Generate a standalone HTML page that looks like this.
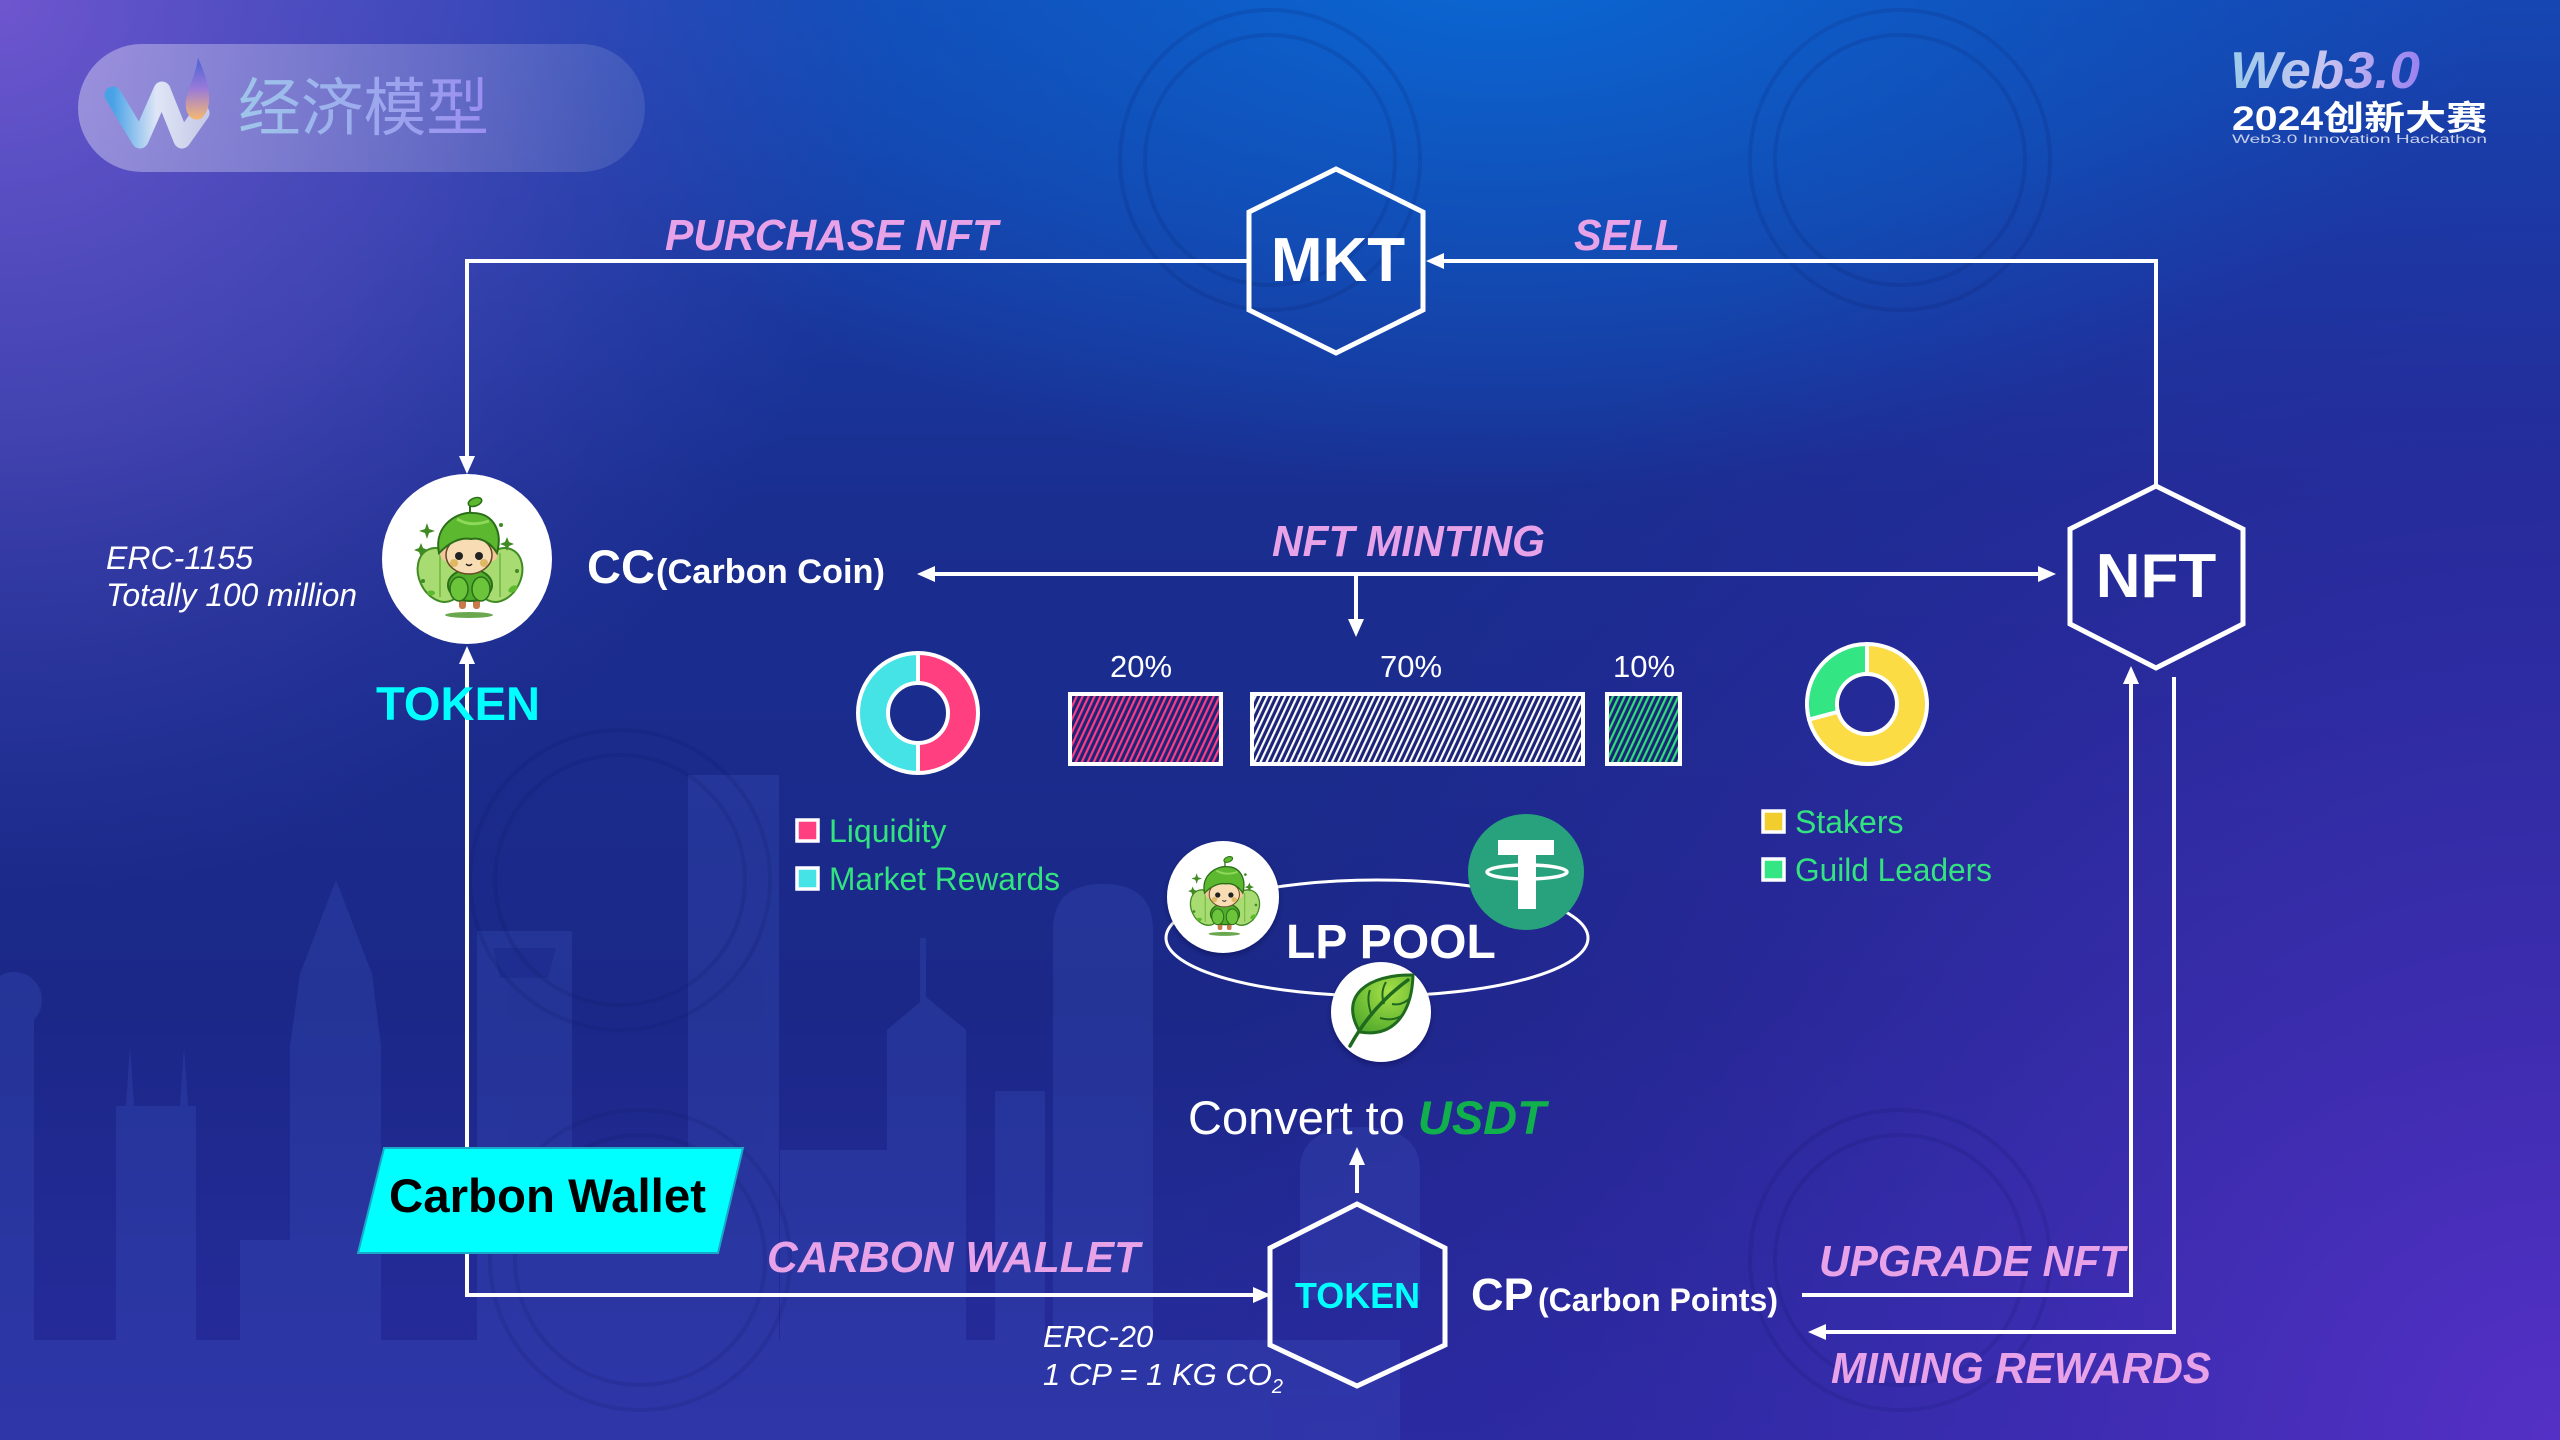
<!DOCTYPE html>
<html><head><meta charset="utf-8"><style>
html,body{margin:0;padding:0;background:#1b2a8c;}
svg{display:block;}
</style></head><body>
<svg width="2560" height="1440" viewBox="0 0 2560 1440" xmlns="http://www.w3.org/2000/svg" font-family="'Liberation Sans', Arial, sans-serif">
<defs>
  <linearGradient id="bgv" x1="0" y1="0" x2="0" y2="1">
    <stop offset="0" stop-color="#1646b2"/>
    <stop offset="0.35" stop-color="#1a2e90"/>
    <stop offset="0.7" stop-color="#1b2888"/>
    <stop offset="1" stop-color="#282b9e"/>
  </linearGradient>
  <radialGradient id="rtl" cx="0" cy="0" r="900" gradientUnits="userSpaceOnUse">
    <stop offset="0" stop-color="#6e56cf" stop-opacity="1"/>
    <stop offset="0.5" stop-color="#5a4cc0" stop-opacity="0.6"/>
    <stop offset="1" stop-color="#3a40b0" stop-opacity="0"/>
  </radialGradient>
  <radialGradient id="rtop" cx="1500" cy="-60" r="1000" gradientUnits="userSpaceOnUse" gradientTransform="translate(1500 -60) scale(1 0.55) translate(-1500 60)">
    <stop offset="0" stop-color="#0a6ad6" stop-opacity="1"/>
    <stop offset="0.6" stop-color="#0c5cc6" stop-opacity="0.5"/>
    <stop offset="1" stop-color="#0c5cc6" stop-opacity="0"/>
  </radialGradient>
  <radialGradient id="rbr" cx="2560" cy="1440" r="1400" gradientUnits="userSpaceOnUse">
    <stop offset="0" stop-color="#5530c6" stop-opacity="1"/>
    <stop offset="0.5" stop-color="#3f2cb4" stop-opacity="0.6"/>
    <stop offset="1" stop-color="#3020a0" stop-opacity="0"/>
  </radialGradient>
  <linearGradient id="pill" x1="0" y1="0" x2="1" y2="0">
    <stop offset="0" stop-color="#ffffff" stop-opacity="0.36"/>
    <stop offset="1" stop-color="#ffffff" stop-opacity="0.1"/>
  </linearGradient>
  <linearGradient id="ttl" x1="0" y1="0" x2="1" y2="0">
    <stop offset="0" stop-color="#9ec6ea"/>
    <stop offset="1" stop-color="#9a8ef0"/>
  </linearGradient>
  <linearGradient id="wg" x1="0" y1="0" x2="1" y2="0">
    <stop offset="0" stop-color="#4aa2e6"/>
    <stop offset="0.5" stop-color="#dfe6f6"/>
    <stop offset="1" stop-color="#c8cce8"/>
  </linearGradient>
  <linearGradient id="dropg" x1="0" y1="0" x2="0" y2="1">
    <stop offset="0" stop-color="#4a62d8"/>
    <stop offset="0.5" stop-color="#9a7ad8"/>
    <stop offset="1" stop-color="#f6b870"/>
  </linearGradient>
  <linearGradient id="web" x1="0" y1="0" x2="1" y2="0">
    <stop offset="0" stop-color="#9ccbea"/>
    <stop offset="0.5" stop-color="#c8c4f0"/>
    <stop offset="1" stop-color="#9a82f0"/>
  </linearGradient>
  <pattern id="pPink" patternUnits="userSpaceOnUse" width="5.4" height="10" patternTransform="rotate(25)">
    <rect width="5.4" height="10" fill="#1c2478"/>
    <rect x="0" width="2.2" height="10" fill="#ff3d84"/>
  </pattern>
  <pattern id="pWhite" patternUnits="userSpaceOnUse" width="5.4" height="10" patternTransform="rotate(25)">
    <rect width="5.4" height="10" fill="#1c2478"/>
    <rect x="0" width="2.2" height="10" fill="#ffffff"/>
  </pattern>
  <pattern id="pGreen" patternUnits="userSpaceOnUse" width="5.4" height="10" patternTransform="rotate(25)">
    <rect width="5.4" height="10" fill="#1c2478"/>
    <rect x="0" width="2.2" height="10" fill="#2fe07a"/>
  </pattern>
  <radialGradient id="leafg" cx="0.6" cy="0.3" r="0.8">
    <stop offset="0" stop-color="#a6e048"/>
    <stop offset="1" stop-color="#4ea82a"/>
  </radialGradient>
  <filter id="sh" x="-20%" y="-20%" width="140%" height="140%">
    <feDropShadow dx="0" dy="3" stdDeviation="3" flood-color="#000030" flood-opacity="0.35"/>
  </filter>
  <symbol id="fairy" viewBox="-85 -85 170 170" overflow="visible">
    <!-- wings -->
    <ellipse cx="-27" cy="16" rx="21" ry="28" transform="rotate(-25 -27 16)" fill="#a8dc72" stroke="#3f8a22" stroke-width="2"/>
    <ellipse cx="33" cy="16" rx="21" ry="28" transform="rotate(25 33 16)" fill="#a8dc72" stroke="#3f8a22" stroke-width="2"/>
    <path d="M-27 -6 L-27 38 M33 -6 L33 38" stroke="#6cb63c" stroke-width="1.5"/>
    <!-- legs -->
    <rect x="-8" y="36" width="7" height="14" rx="3" fill="#c77a4a"/>
    <rect x="6" y="36" width="7" height="14" rx="3" fill="#c77a4a"/>
    <!-- body leaves -->
    <ellipse cx="3" cy="26" rx="22" ry="16" fill="#4fae2a" stroke="#2b6e1a" stroke-width="2"/>
    <ellipse cx="-8" cy="30" rx="9" ry="12" fill="#6cc43a" stroke="#2b6e1a" stroke-width="1.5"/>
    <ellipse cx="14" cy="30" rx="9" ry="12" fill="#6cc43a" stroke="#2b6e1a" stroke-width="1.5"/>
    <!-- face -->
    <ellipse cx="-21" cy="-6" rx="6" ry="8" fill="#f2c89a"/>
    <ellipse cx="25" cy="-6" rx="6" ry="8" fill="#f2c89a"/>
    <ellipse cx="2" cy="-4" rx="23" ry="19" fill="#f8dcb4" stroke="#6a4a2a" stroke-width="1.5"/>
    <circle cx="-8" cy="-3" r="4" fill="#222"/>
    <circle cx="12" cy="-3" r="4" fill="#222"/>
    <circle cx="-13" cy="4" r="4" fill="#d4a840" opacity="0.7"/>
    <circle cx="17" cy="4" r="4" fill="#d4a840" opacity="0.7"/>
    <path d="M-1 5 Q2 8 5 5" stroke="#222" stroke-width="1.5" fill="none"/>
    <!-- hair -->
    <path d="M-28 -6 C-34 -36 -6 -48 6 -46 C26 -46 36 -28 30 -6 C24 -16 14 -22 4 -20 C-8 -22 -18 -16 -28 -6 Z" fill="#5cb82e" stroke="#2b6e1a" stroke-width="2"/>
    <path d="M-10 -40 C0 -34 10 -34 22 -38" stroke="#8ed85a" stroke-width="3" fill="none"/>
    <!-- sprout -->
    <path d="M3 -46 L3 -54" stroke="#2b6e1a" stroke-width="2"/>
    <ellipse cx="8" cy="-57" rx="7" ry="4" transform="rotate(-20 8 -57)" fill="#5cb82e" stroke="#2b6e1a" stroke-width="1.5"/>
    <!-- shadow -->
    <ellipse cx="2" cy="56" rx="24" ry="3" fill="#6aa84f"/>
    <!-- sparkles -->
    <path d="M-40 -36 l2 6 6 2 -6 2 -2 6 -2 -6 -6 -2 6 -2 z" fill="#3f8a22"/>
    <path d="M-46 -16 l2 5 5 2 -5 2 -2 5 -2 -5 -5 -2 5 -2 z" fill="#3f8a22"/>
    <path d="M40 -22 l2 5 5 2 -5 2 -2 5 -2 -5 -5 -2 5 -2 z" fill="#3f8a22"/>
    <circle cx="34" cy="-34" r="2" fill="#3f8a22"/>
    <circle cx="-44" cy="22" r="2" fill="#3f8a22"/>
    <circle cx="50" cy="12" r="2" fill="#3f8a22"/>
    <ellipse cx="46" cy="30" rx="5" ry="3" transform="rotate(-30 46 30)" fill="#5cb82e"/>
    <ellipse cx="-36" cy="34" rx="4" ry="2.5" fill="#5cb82e"/>
  </symbol>
</defs>

<!-- background -->
<rect width="2560" height="1440" fill="url(#bgv)"/>
<rect width="2560" height="1440" fill="url(#rtop)"/>
<rect width="2560" height="1440" fill="url(#rtl)"/>
<rect width="2560" height="1440" fill="url(#rbr)"/>

<!-- skyline -->
<g fill="#4a66d4" opacity="0.2">
  <rect x="0" y="1010" width="34" height="430"/>
  <circle cx="14" cy="1000" r="28"/>
  <rect x="116" y="1106" width="80" height="334"/>
  <polygon points="126,1106 130,1046 134,1106"/>
  <polygon points="180,1106 184,1046 188,1106"/>
  <polygon points="290,1046 300,974 336,880 372,974 381,1046 381,1440 290,1440"/>
  <rect x="240" y="1240" width="60" height="200"/>
  <rect x="477" y="931" width="95" height="509"/>
  <rect x="688" y="775" width="91" height="665"/>
  <polygon points="887,1440 887,1030 926,997 966,1030 966,1440"/>
  <rect x="920" y="938" width="6" height="70"/>
  <rect x="995" y="1091" width="50" height="349"/>
  <path d="M1053 1440 L1053 930 Q1053 884 1103 884 Q1153 884 1153 930 L1153 1440 Z"/>
  <path d="M1300 1300 L1300 1170 Q1300 1127 1360 1127 Q1420 1127 1420 1170 L1420 1300 Z"/>
  <rect x="560" y="1180" width="140" height="260"/>
  <rect x="780" y="1150" width="110" height="290"/>
  <rect x="0" y="1340" width="1400" height="100"/>
</g>
<g fill="#1a2a8a" opacity="0.6">
  <polygon points="493,948 556,948 548,978 500,978"/>
</g>

<!-- faint watermark rings -->
<g fill="none" stroke="#0a1450" stroke-opacity="0.12" stroke-width="4">
  <circle cx="1270" cy="160" r="150"/>
  <circle cx="1270" cy="160" r="125"/>
  <circle cx="1900" cy="160" r="150"/>
  <circle cx="1900" cy="160" r="125"/>
  <circle cx="620" cy="880" r="150"/>
  <circle cx="620" cy="880" r="125"/>
  <circle cx="1900" cy="1260" r="150"/>
  <circle cx="1900" cy="1260" r="125"/>
  <circle cx="640" cy="1260" r="150"/>
  <circle cx="640" cy="1260" r="125"/>
</g>

<!-- title pill -->
<rect x="78" y="44" width="567" height="128" rx="64" fill="url(#pill)"/>
<polyline points="113,95 140,140 162,90 182,140 201,113" fill="none" stroke="url(#wg)" stroke-width="17" stroke-linejoin="round" stroke-linecap="round"/>
<path d="M198 58 C210 84 214 106 202 118 C192 124 182 112 187 96 C191 82 196 72 198 58 Z" fill="url(#dropg)"/>
<text x="238" y="130" font-size="63" font-family="'Noto Sans CJK SC', 'WenQuanYi Zen Hei', sans-serif" fill="url(#ttl)" textLength="251" lengthAdjust="spacingAndGlyphs">经济模型</text>

<!-- Web3.0 logo -->
<text x="2230" y="88" font-size="52" font-weight="bold" font-style="italic" fill="url(#web)" textLength="190" lengthAdjust="spacingAndGlyphs">Web3.0</text>
<text x="2232" y="130" font-size="34" font-weight="bold" fill="#ffffff" font-family="'Liberation Sans','Noto Sans CJK SC',sans-serif" textLength="255" lengthAdjust="spacingAndGlyphs">2024创新大赛</text>
<text x="2232" y="143" font-size="12" fill="#c8d0ec" textLength="255" lengthAdjust="spacingAndGlyphs">Web3.0 Innovation Hackathon</text>

<!-- connectors -->
<g stroke="#ffffff" stroke-width="4" fill="none">
  <polyline points="1249,261 467,261 467,458"/>
  <polyline points="2156,486 2156,261 1443,261"/>
  <line x1="933" y1="574" x2="2040" y2="574"/>
  <line x1="1356" y1="574" x2="1356" y2="621"/>
  <polyline points="467,662 467,1295 1255,1295"/>
  <line x1="1357" y1="1193" x2="1357" y2="1163"/>
  <polyline points="1802,1295 2131,1295 2131,682"/>
  <polyline points="2174,677 2174,1332 1824,1332"/>
</g>
<g fill="#ffffff">
  <polygon points="459,456 475,456 467,474"/>
  <polygon points="1426,261 1444,253 1444,269"/>
  <polygon points="917,574 935,566 935,582"/>
  <polygon points="2056,574 2038,566 2038,582"/>
  <polygon points="1348,619 1364,619 1356,637"/>
  <polygon points="459,664 475,664 467,646"/>
  <polygon points="1271,1295 1253,1287 1253,1303"/>
  <polygon points="1349,1165 1365,1165 1357,1147"/>
  <polygon points="2123,684 2139,684 2131,666"/>
  <polygon points="1808,1332 1826,1324 1826,1340"/>
</g>

<!-- hexagons -->
<g fill="none" stroke="#ffffff" stroke-width="5" stroke-linejoin="miter">
  <polygon points="1336,169 1423,212 1423,310 1336,353 1249,310 1249,212"/>
  <polygon points="2156,486 2243,529 2243,624 2156,668 2070,624 2070,529"/>
  <polygon points="1357,1204 1445,1248 1445,1345 1357,1386 1270,1345 1270,1248"/>
</g>
<text x="1338" y="281" font-size="62" font-weight="bold" fill="#ffffff" text-anchor="middle">MKT</text>
<text x="2156" y="597" font-size="62" font-weight="bold" fill="#ffffff" text-anchor="middle">NFT</text>
<text x="1295" y="1308" font-size="36" font-weight="bold" fill="#00ffff" textLength="125" lengthAdjust="spacingAndGlyphs">TOKEN</text>

<!-- pink labels -->
<g font-size="44" font-weight="bold" font-style="italic" fill="#e8a2e8">
  <text x="665" y="250" textLength="333" lengthAdjust="spacingAndGlyphs">PURCHASE NFT</text>
  <text x="1574" y="250" textLength="106" lengthAdjust="spacingAndGlyphs">SELL</text>
  <text x="1272" y="556" textLength="273" lengthAdjust="spacingAndGlyphs">NFT MINTING</text>
  <text x="767" y="1272" textLength="373" lengthAdjust="spacingAndGlyphs">CARBON WALLET</text>
  <text x="1819" y="1276" textLength="306" lengthAdjust="spacingAndGlyphs">UPGRADE NFT</text>
  <text x="1831" y="1383" textLength="380" lengthAdjust="spacingAndGlyphs">MINING REWARDS</text>
</g>

<!-- CC token -->
<circle cx="467" cy="559" r="85" fill="#ffffff"/>
<use href="#fairy" x="382" y="474" width="170" height="170"/>
<text x="587" y="583" font-size="47" font-weight="bold" fill="#ffffff">CC</text>
<text x="656" y="583" font-size="34" font-weight="bold" fill="#ffffff" textLength="229" lengthAdjust="spacingAndGlyphs">(Carbon Coin)</text>
<g font-size="32" font-style="italic" fill="#ffffff">
  <text x="106" y="569">ERC-1155</text>
  <text x="106" y="606" textLength="251" lengthAdjust="spacingAndGlyphs">Totally 100 million</text>
</g>
<text x="376" y="720" font-size="47" font-weight="bold" fill="#00ffff" textLength="164" lengthAdjust="spacingAndGlyphs">TOKEN</text>

<!-- left donut -->
<g stroke="#ffffff" stroke-width="4" stroke-linejoin="round">
  <path d="M918 653 A60 60 0 0 1 918 773 L918 743 A30 30 0 0 0 918 683 Z" fill="#ff3f80"/>
  <path d="M918 773 A60 60 0 0 1 918 653 L918 683 A30 30 0 0 0 918 743 Z" fill="#45e3e6"/>
</g>

<!-- bars -->
<g font-size="31" fill="#ffffff" text-anchor="middle">
  <text x="1141" y="677">20%</text>
  <text x="1411" y="677">70%</text>
  <text x="1644" y="677">10%</text>
</g>
<g stroke="#ffffff" stroke-width="4">
  <rect x="1070" y="694" width="151" height="70" fill="url(#pPink)"/>
  <rect x="1252" y="694" width="331" height="70" fill="url(#pWhite)"/>
  <rect x="1607" y="694" width="73" height="70" fill="url(#pGreen)"/>
</g>

<!-- right donut -->
<g stroke="#ffffff" stroke-width="4" stroke-linejoin="round">
  <path d="M1867 644 A60 60 0 1 1 1809.0 719.5 L1838.0 711.8 A30 30 0 1 0 1867 674 Z" fill="#fbdc45"/>
  <path d="M1809.0 719.5 A60 60 0 0 1 1867 644 L1867 674 A30 30 0 0 0 1838.0 711.8 Z" fill="#33e583"/>
</g>

<!-- legends -->
<g stroke="#ffffff" stroke-width="3.5">
  <rect x="797" y="820" width="21" height="21" fill="#ff3f80"/>
  <rect x="797" y="868" width="21" height="21" fill="#45e3e6"/>
  <rect x="1763" y="811" width="21" height="21" fill="#f2cd2e"/>
  <rect x="1763" y="859" width="21" height="21" fill="#33e583"/>
</g>
<g font-size="32" fill="#33e37f">
  <text x="829" y="842">Liquidity</text>
  <text x="829" y="890" textLength="231" lengthAdjust="spacingAndGlyphs">Market Rewards</text>
  <text x="1795" y="833">Stakers</text>
  <text x="1795" y="881" textLength="197" lengthAdjust="spacingAndGlyphs">Guild Leaders</text>
</g>

<!-- LP pool -->
<ellipse cx="1377" cy="938" rx="211" ry="58" fill="none" stroke="#ffffff" stroke-width="3"/>
<circle cx="1223" cy="897" r="56" fill="#ffffff" filter="url(#sh)"/>
<use href="#fairy" x="1167" y="841" width="112" height="112"/>
<circle cx="1526" cy="872" r="58" fill="#27a27c"/>
<rect x="1498" y="840" width="56" height="15" fill="#ffffff"/>
<rect x="1518" y="853" width="18" height="56" fill="#ffffff"/>
<ellipse cx="1527" cy="872" rx="40" ry="7" fill="none" stroke="#ffffff" stroke-width="3.5"/>
<text x="1286" y="958" font-size="48" font-weight="bold" fill="#ffffff">LP POOL</text>
<circle cx="1381" cy="1012" r="50" fill="#ffffff" filter="url(#sh)"/>
<path d="M1360 1032 C1338 996 1368 974 1413 975 C1412 1010 1396 1038 1360 1032 Z" fill="url(#leafg)" stroke="#1f6a1f" stroke-width="3"/>
<path d="M1350 1046 Q1372 1006 1408 980" fill="none" stroke="#1f6a1f" stroke-width="3.5" stroke-linecap="round"/>
<path d="M1372 1016 Q1366 1000 1370 990 M1384 1004 Q1380 992 1386 982 M1380 1018 Q1394 1022 1404 1014 M1392 1004 Q1402 1006 1410 998" fill="none" stroke="#1f6a1f" stroke-width="2"/>

<!-- Convert to USDT -->
<text x="1188" y="1134" font-size="47" fill="#ffffff">Convert to <tspan font-weight="bold" font-style="italic" fill="#10b04c">USDT</tspan></text>

<!-- Carbon wallet -->
<polygon points="384,1148 743,1148 718,1253 358,1253" fill="#00ffff" stroke="#1aa8c8" stroke-width="2"/>
<text x="389" y="1212" font-size="47" font-weight="bold" fill="#000000" textLength="317" lengthAdjust="spacingAndGlyphs">Carbon Wallet</text>

<!-- ERC-20 -->
<g font-size="31" font-style="italic" fill="#ffffff">
  <text x="1043" y="1347">ERC-20</text>
  <text x="1043" y="1385">1 CP = 1 KG CO<tspan font-size="20" dy="8">2</tspan></text>
</g>

<!-- CP -->
<text x="1471" y="1310" font-size="45" font-weight="bold" fill="#ffffff">CP</text>
<text x="1538" y="1311" font-size="32" font-weight="bold" fill="#ffffff" textLength="240" lengthAdjust="spacingAndGlyphs">(Carbon Points)</text>
</svg>
</body></html>
